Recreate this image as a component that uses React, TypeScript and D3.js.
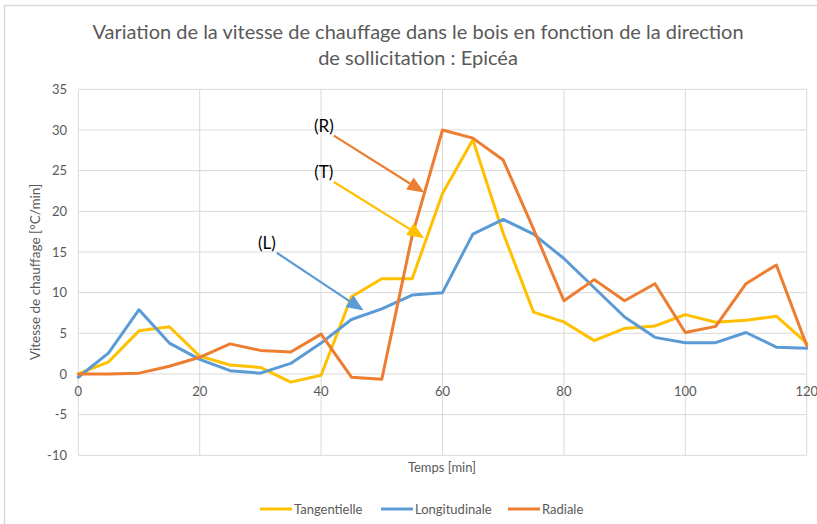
import React from "react";
import * as d3 from "d3";

const minutes = [0,5,10,15,20,25,30,35,40,45,50,55,60,65,70,75,80,85,90,95,100,105,110,115,120];
const tangentielle = [0,1.5,5.3,5.8,2.2,1.1,0.8,-1.0,-0.15,9.5,11.7,11.7,22.2,28.8,17.3,7.6,6.4,4.1,5.6,5.9,7.3,6.35,6.6,7.1,3.8];
const longitudinale = [-0.4,2.6,7.9,3.8,1.8,0.4,0.1,1.3,3.8,6.7,8.0,9.7,10.0,17.2,19.0,17.2,14.2,10.6,7.0,4.5,3.85,3.85,5.1,3.3,3.15];
const radiale = [0,0,0.1,0.95,2.05,3.7,2.9,2.7,4.9,-0.4,-0.65,17.0,30.0,29.0,26.3,17.8,9.0,11.6,9.0,11.1,5.1,5.85,11.1,13.4,3.5];
const xTicks = [0,20,40,60,80,100,120];
const yTicks = [-10,-5,0,5,10,15,20,25,30,35];
const seriesNames = ["Tangentielle","Longitudinale","Radiale"];
const seriesColors = ["#FFC000","#5B9BD5","#ED7D31"];
const titleLines = ["Variation de la vitesse de chauffage dans le bois en fonction de la direction","de sollicitation : Epicéa"];
// annotations: label, label anchor (min,value), arrow tip (min,value)
const annotLabels = ["(R)","(T)","(L)"];
const annotFrom = [[42.1,29.3],[42.1,23.6],[32.7,14.9]];
const annotTo = [[57.0,22.3],[57.0,16.7],[47.0,7.8]];

export default function App() {
  const W = 817, H = 524;
  const x = d3.scaleLinear().domain([0,120]).range([78.3,806.7]);
  const y = d3.scaleLinear().domain([-10,35]).range([455.3,89.3]);
  const series = [tangentielle, longitudinale, radiale];
  const line = d3.line<number>().x((_, i) => x(minutes[i])).y(d => y(d));
  const font = "Lato, 'Open Sans', sans-serif";
  const gray = "#595959";
  const annColors = ["#ED7D31","#FFC000","#5B9BD5"];
  const legendX = [260, 381, 508];

  return (
    <svg width={W} height={H} style={{position:"fixed",left:0,top:0,background:"#fff"}} fontFamily={font}>
      <rect x={0} y={0} width={W} height={H} fill="#fff" />
      <line x1={4} y1={5.5} x2={W} y2={5.5} stroke="#d9d9d9" strokeWidth={1.5} />
      <line x1={4.5} y1={5} x2={4.5} y2={H} stroke="#d9d9d9" strokeWidth={1.5} />
      {titleLines.map((t, i) => (
        <text key={t} x={418} y={39 + i * 26} textAnchor="middle" fontSize={20} fill={gray}>{t}</text>
      ))}
      {yTicks.map(v => (
        <line key={"gy"+v} x1={x(0)} x2={x(120)} y1={y(v)} y2={y(v)} stroke="#d9d9d9" strokeWidth={1} />
      ))}
      {xTicks.map(v => (
        <line key={"gx"+v} x1={x(v)} x2={x(v)} y1={y(-10)} y2={y(35)} stroke="#d9d9d9" strokeWidth={1} />
      ))}
      {yTicks.map(v => (
        <text key={"ty"+v} x={67} y={y(v)} dy="0.35em" textAnchor="end" fontSize={13} fill={gray}>{v}</text>
      ))}
      {xTicks.map(v => (
        <text key={"tx"+v} x={x(v)} y={y(0) + 17} dy="0.35em" textAnchor="middle" fontSize={13} fill={gray}>{v}</text>
      ))}
      <text x={442} y={467} dy="0.35em" textAnchor="middle" fontSize={13} fill={gray}>Temps [min]</text>
      <text transform={`translate(35,272) rotate(-90)`} dy="0.35em" textAnchor="middle" fontSize={13.5} fill={gray}>Vitesse de chauffage [°C/min]</text>
      {series.map((s, i) => (
        <path key={seriesNames[i]} d={line(s) || ""} fill="none" stroke={seriesColors[i]} strokeWidth={3} strokeLinejoin="round" strokeLinecap="round" />
      ))}
      {annotLabels.map((lab, i) => {
        const [fx, fy] = annotFrom[i];
        const [tx, ty] = annotTo[i];
        const x1 = x(fx), y1 = y(fy), x2 = x(tx), y2 = y(ty);
        const ang = Math.atan2(y2 - y1, x2 - x1);
        const L = 17, Wd = 7;
        const bx = x2 - L * Math.cos(ang), by = y2 - L * Math.sin(ang);
        const px = -Math.sin(ang) * Wd, py = Math.cos(ang) * Wd;
        return (
          <g key={lab}>
            <line x1={x1} y1={y1} x2={bx} y2={by} stroke={annColors[i]} strokeWidth={2.2} />
            <path d={`M${x2},${y2}L${bx+px},${by+py}L${bx-px},${by-py}Z`} fill={annColors[i]} />
            <text x={x1 - 10} y={y1 - 10} dy="0.35em" textAnchor="middle" fontSize={17} fill="#000">{lab}</text>
          </g>
        );
      })}
      {seriesNames.map((n, i) => (
        <g key={"lg"+n}>
          <line x1={legendX[i]} x2={legendX[i] + 32} y1={509} y2={509} stroke={seriesColors[i]} strokeWidth={3} />
          <text x={legendX[i] + 34} y={509} dy="0.35em" fontSize={13} fill={gray}>{n}</text>
        </g>
      ))}
    </svg>
  );
}
